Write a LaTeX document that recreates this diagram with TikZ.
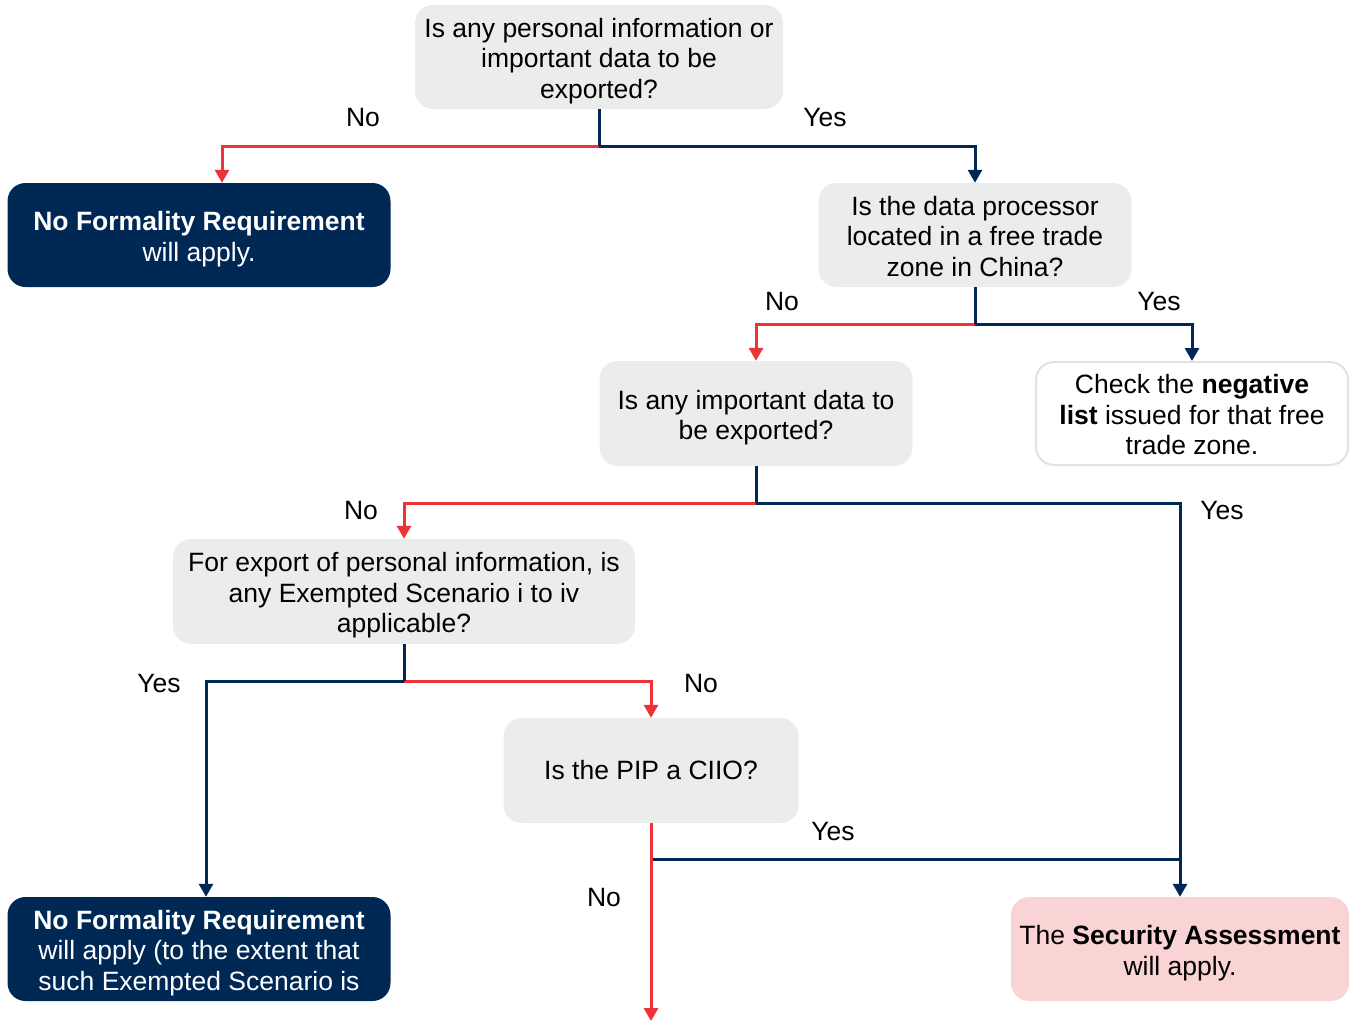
\documentclass[tikz,border=0pt]{standalone}
\usepackage{fontspec}
\setmainfont{Liberation Sans}
\usetikzlibrary{arrows.meta}
\definecolor{navy}{HTML}{002855}
\definecolor{redline}{HTML}{EE3338}
\definecolor{boxgray}{HTML}{EBECEC}
\definecolor{pinkbox}{HTML}{FAD4D4}
\definecolor{lightborder}{HTML}{E2E2E2}
\newcommand\topstrut{\rule{0pt}{27pt}}
\newcommand\lowstrut{\rule{0pt}{22pt}}
\begin{document}
\begin{tikzpicture}[x=1pt,y=-1pt,
  txt/.style={font=\fontsize{26.5}{30.5}\selectfont},
  box/.style={txt, rounded corners=18pt, align=center, inner sep=0pt},
  qbox/.style={box, fill=boxgray},
  navybox/.style={box, fill=navy, text=white},
  pinkbx/.style={box, fill=pinkbox},
  whitebox/.style={box, draw=lightborder, line width=2pt, fill=white},
  yesline/.style={draw=navy, line width=3pt},
  noline/.style={draw=redline, line width=3pt},
  yesarrow/.style={yesline, -{Triangle[width=14pt,length=13pt]}},
  noarrow/.style={noline, -{Triangle[width=14pt,length=13pt]}},
  lbl/.style={txt, inner sep=0pt}
]
\useasboundingbox (0,0) rectangle (1354,1021);

% boxes
\node[qbox, minimum width=368pt, minimum height=104pt] (q1) at (599,57)
  {\topstrut Is any personal information or\\important data to be\\exported?};
\node[navybox, minimum width=383pt, minimum height=104pt] (nf1) at (199,235)
  {\topstrut\textbf{No Formality Requirement}\\will apply.};
\node[qbox, minimum width=313pt, minimum height=104pt] (q2) at (975,235)
  {\lowstrut Is the data processor\\located in a free trade\\zone in China?};
\node[qbox, minimum width=313pt, minimum height=105pt] (q3) at (756,413.5)
  {\topstrut Is any important data to\\be exported?};
\node[whitebox, minimum width=312pt, minimum height=103pt] (neg) at (1192,413.5)
  {\lowstrut Check the \textbf{negative}\\\textbf{list} issued for that free\\trade zone.};
\node[qbox, minimum width=462pt, minimum height=105pt] (q4) at (404,591.5)
  {\topstrut For export of personal information, is\\any Exempted Scenario i to iv\\applicable?};
\node[qbox, minimum width=295pt, minimum height=105pt] (q5) at (651,770.5)
  {Is the PIP a CIIO?};
\node[navybox, minimum width=383pt, minimum height=104pt] (nf2) at (199,949)
  {\topstrut\textbf{No Formality Requirement}\\will apply (to the extent that\\such Exempted Scenario is};
\node[pinkbx, minimum width=338pt, minimum height=104pt] (sa) at (1180,949)
  {\topstrut The \textbf{Security Assessment}\\will apply.};

% junctions
\coordinate (j1) at (599,146);
\coordinate (j2) at (975,324);
\coordinate (j3) at (756,503);
\coordinate (j4) at (404,681);
\coordinate (j5) at (651,859);
\coordinate (end) at (651,1021);

% connectors
\draw[noarrow] (j1) -| ([xshift=23pt]nf1.north);
\draw[yesarrow] (j1) -| (q2.north);
\draw[yesline] (q1.south) -- (j1);

\draw[noarrow] (j2) -| (q3.north);
\draw[yesarrow] (j2) -| (neg.north);
\draw[yesline] (q2.south) -- (j2);

\draw[noarrow] (j3) -| (q4.north);
\draw[yesarrow] (j3) -| (sa.north);
\draw[yesline] (q3.south) -- (j3);

\draw[noarrow] (j4) -| (q5.north);
\draw[yesarrow] (j4) -| ([xshift=7pt]nf2.north);
\draw[yesline] (q4.south) -- (j4);

\draw[yesline] (j5) -- (j5 -| sa.north);
\draw[noarrow] (q5.south) -- (end);

% labels
\node[lbl] (l1) at (363,118) {No};
\node[lbl] (l2) at (825,118) {Yes};
\node[lbl] (l3) at (782,302) {No};
\node[lbl] (l4) at (1159,302) {Yes};
\node[lbl] (l5) at (361,511) {No};
\node[lbl] (l6) at (1222,511) {Yes};
\node[lbl] (l7) at (159,684) {Yes};
\node[lbl] (l8) at (701,684) {No};
\node[lbl] (l9) at (833,831) {Yes};
\node[lbl] (l10) at (604,897) {No};
\end{tikzpicture}
\end{document}
